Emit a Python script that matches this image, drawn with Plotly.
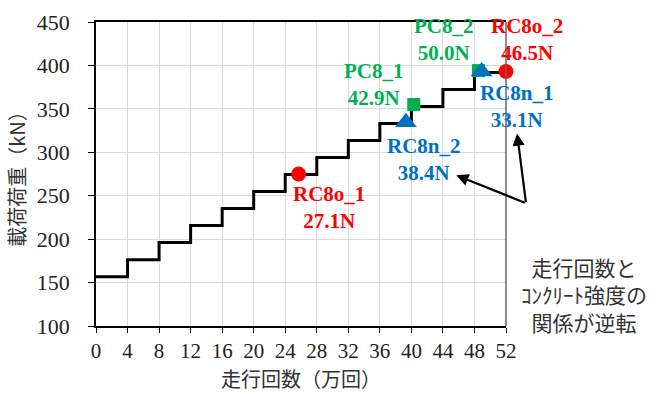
import plotly.graph_objects as go

# ---- data ----
stage_x = [0, 4, 8, 12, 16, 20, 24, 28, 32, 36, 40, 44, 48, 52]
stage_load = [156.8, 176.4, 196.0, 215.6, 235.2, 254.8, 274.4, 294.0, 313.6,
              333.2, 352.8, 372.4, 392.0, 392.0]

spec_names = ["RC8o_1", "RC8n_2", "PC8_1", "PC8_2", "RC8n_1", "RC8o_2"]
spec_x = [25.7, 39.3, 40.3, 48.5, 48.9, 52.0]
spec_y = [275.0, 334.5, 355.0, 394.0, 393.0, 393.0]
spec_strength = ["27.1N", "38.4N", "42.9N", "50.0N", "33.1N", "46.5N"]
spec_group = ["o", "n", "p", "p", "n", "o"]

x_ticks = [0, 4, 8, 12, 16, 20, 24, 28, 32, 36, 40, 44, 48, 52]
y_ticks = [100, 150, 200, 250, 300, 350, 400, 450]

RED, BLUE, GREEN = "#FF0000", "#0070C0", "#00B050"
group_style = {"o": (RED, "circle", 15), "n": (BLUE, "triangle-up", 19),
               "p": (GREEN, "square", 13)}
# label offsets (pixels) relative to each marker
label_shift = {"RC8o_1": (30, -33), "RC8n_2": (18, -37), "PC8_1": (-40, 20),
               "PC8_2": (-34, 31), "RC8n_1": (35, -35), "RC8o_2": (21, 32)}

SERIF = "Times New Roman, Liberation Serif, serif"
JP = "Noto Sans CJK JP"

fig = go.Figure()
fig.add_trace(go.Scatter(x=stage_x, y=stage_load, mode="lines",
                         line=dict(color="black", width=3, shape="hv"),
                         hoverinfo="skip", showlegend=False))

for g in ["p", "n", "o"]:
    col, sym, sz = group_style[g]
    xs = [x for x, gg in zip(spec_x, spec_group) if gg == g]
    ys = [y for y, gg in zip(spec_y, spec_group) if gg == g]
    fig.add_trace(go.Scatter(x=xs, y=ys, mode="markers",
                             marker=dict(color=col, symbol=sym, size=sz, line=dict(width=0)),
                             showlegend=False, cliponaxis=False))

for n, x, y, s, g in zip(spec_names, spec_x, spec_y, spec_strength, spec_group):
    col = group_style[g][0]
    dx, dy = label_shift[n]
    fig.add_annotation(x=x, y=y, xref="x", yref="y", text=f"<b>{n}<br>{s}</b>",
                       showarrow=False, xshift=dx, yshift=dy,
                       xanchor="center", yanchor="middle",
                       font=dict(family=SERIF, size=21, color=col))

# arrows
fig.add_annotation(x=45.7, y=273.5, xref="x", yref="y", text="", showarrow=True,
                   ax=70, ay=28, arrowhead=2, arrowsize=1.1, arrowwidth=2.2,
                   arrowcolor="black")
fig.add_annotation(x=1.027, y=0.633, xref="paper", yref="paper", text="", showarrow=True,
                   ax=9, ay=70, arrowhead=2, arrowsize=1.1, arrowwidth=2.2,
                   arrowcolor="black")

fig.add_annotation(x=1.191, y=0.104, xref="paper", yref="paper",
                   text="走行回数と<br>ｺﾝｸﾘｰﾄ強度の<br>関係が逆転",
                   showarrow=False, xanchor="center", yanchor="middle",
                   font=dict(family=JP, size=21, color="#333333"))

# right border at x=52
fig.add_shape(type="line", xref="paper", yref="paper", x0=1, x1=1, y0=0, y1=1,
              line=dict(color="#666666", width=1.5))

fig.update_layout(
    width=657, height=394,
    margin=dict(l=96, r=151, t=22, b=68, autoexpand=False),
    paper_bgcolor="white", plot_bgcolor="white",
    font=dict(family=SERIF, color="#222222"),
    xaxis=dict(range=[0, 52], tickvals=x_ticks, showgrid=True, gridcolor="#d9d9d9",
               gridwidth=1, showline=True, linecolor="black", linewidth=1.5,
               mirror=True, ticks="outside", ticklen=5, tickcolor="black",
               tickfont=dict(family=SERIF, size=21, color="#222222"),
               zeroline=False, automargin=False,
               title=dict(text="走行回数（万回）", standoff=11,
                          font=dict(family=JP, size=20, color="#333333"))),
    yaxis=dict(range=[100, 450], tickvals=y_ticks, showgrid=True, gridcolor="#d9d9d9",
               gridwidth=1, showline=True, linecolor="black", linewidth=1.5,
               ticks="outside", ticklen=6, tickcolor="black", ticklabelstandoff=14,
               tickfont=dict(family=SERIF, size=22, color="#222222"),
               zeroline=False, automargin=False,
               title=dict(text="載荷荷重（kN）", standoff=6,
                          font=dict(family=JP, size=20, color="#333333"))),
)

fig.write_html("out.html")
